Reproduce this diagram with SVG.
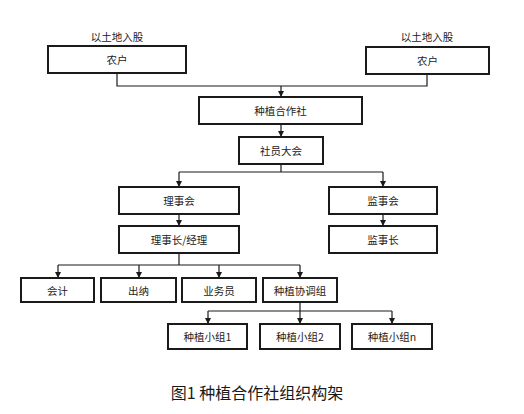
<svg xmlns="http://www.w3.org/2000/svg" width="524" height="414" viewBox="0 0 524 414">
<defs>
<style>
.box rect{fill:#fff;stroke:#1a1a1a;stroke-width:2}
.box text,.lbl{font-family:"Noto Sans CJK SC","Noto Sans",sans-serif;font-size:10.5px;fill:#222;text-anchor:middle;dominant-baseline:central}
.cap{font-family:"Noto Sans CJK SC","Noto Sans",sans-serif;font-size:16px;fill:#1a1a1a;text-anchor:middle}
#connectors path{fill:none;stroke:#1a1a1a;stroke-width:1.2}
#connectors path.arr{marker-end:url(#ah)}
</style>
<marker id="ah" markerUnits="userSpaceOnUse" markerWidth="6" markerHeight="6" refX="6" refY="3" orient="auto">
<path d="M0,0 L6,3 L0,6 z" fill="#1a1a1a"/>
</marker>
</defs>
<rect width="524" height="414" fill="#fff"/>
<g id="connectors">
<path d="M117 73 V86 H427 V74"/>
<path class="arr" d="M281 86 V97"/>
<path class="arr" d="M281 124 V137"/>
<path d="M281 164 V172 M179 172 H383"/>
<path class="arr" d="M179 172 V187"/>
<path class="arr" d="M383 172 V187"/>
<path class="arr" d="M179 214 V226"/>
<path class="arr" d="M383 214 V226"/>
<path d="M179 253 V265 M58 265 H300"/>
<path class="arr" d="M58 265 V278"/>
<path class="arr" d="M139 265 V278"/>
<path class="arr" d="M219 265 V278"/>
<path class="arr" d="M300 265 V278"/>
<path d="M300 302 V311 M208 311 H392"/>
<path class="arr" d="M208 311 V324"/>
<path class="arr" d="M300 311 V324"/>
<path class="arr" d="M392 311 V324"/>
</g>
<text class="lbl" x="117" y="36">以土地入股</text>
<text class="lbl" x="427" y="36">以土地入股</text>
<g id="nonghu1" class="box"><rect x="48" y="46" width="138" height="27"/><text x="117" y="59.5">农户</text></g>
<g id="nonghu2" class="box"><rect x="366" y="47" width="123" height="27"/><text x="427.5" y="60.5">农户</text></g>
<g id="hezuoshe" class="box"><rect x="199" y="97" width="163" height="27"/><text x="280.5" y="110.5">种植合作社</text></g>
<g id="sheyuan" class="box"><rect x="239" y="137" width="84" height="27"/><text x="281" y="150.5">社员大会</text></g>
<g id="lishihui" class="box"><rect x="119" y="187" width="120" height="27"/><text x="179" y="200.5">理事会</text></g>
<g id="jianshihui" class="box"><rect x="329" y="187" width="108" height="27"/><text x="383" y="200.5">监事会</text></g>
<g id="lishizhang" class="box"><rect x="119" y="226" width="120" height="27"/><text x="179" y="239.5">理事长/经理</text></g>
<g id="jianshizhang" class="box"><rect x="329" y="226" width="108" height="27"/><text x="383" y="239.5">监事长</text></g>
<g id="kuaiji" class="box"><rect x="21" y="278" width="73" height="24"/><text x="57.5" y="290">会计</text></g>
<g id="chuna" class="box"><rect x="101" y="278" width="75" height="24"/><text x="138.5" y="290">出纳</text></g>
<g id="yewuyuan" class="box"><rect x="182" y="278" width="74" height="24"/><text x="219" y="290">业务员</text></g>
<g id="xietiao" class="box"><rect x="263" y="278" width="74" height="24"/><text x="300" y="290">种植协调组</text></g>
<g id="xiaozu1" class="box"><rect x="168" y="324" width="79" height="25"/><text x="207.5" y="336.5">种植小组1</text></g>
<g id="xiaozu2" class="box"><rect x="260" y="324" width="80" height="25"/><text x="300" y="336.5">种植小组2</text></g>
<g id="xiaozun" class="box"><rect x="352" y="324" width="80" height="25"/><text x="392" y="336.5">种植小组n</text></g>
<text class="cap" x="257" y="399">图1 种植合作社组织构架</text>
</svg>
